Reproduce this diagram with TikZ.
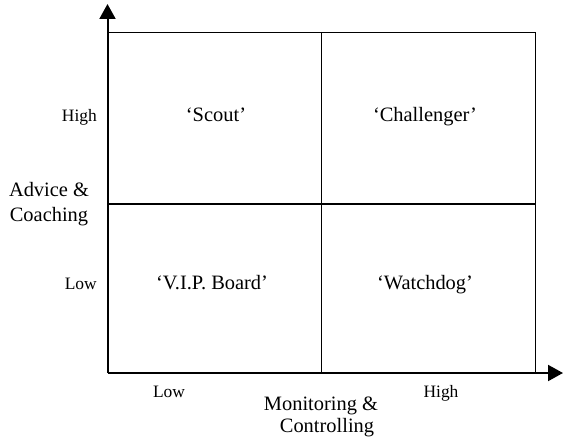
\documentclass[tikz,border=0pt]{standalone}
\usepackage{fontspec}
\setmainfont{Liberation Serif}
\usetikzlibrary{arrows.meta}
\tikzset{
  axis/.style={line width=2bp, -{Triangle[length=15bp,width=16bp]}},
  grid/.style={line width=1bp},
  midline/.style={line width=1.6bp},
  quad/.style={font=\fontsize{20.5}{24}\selectfont, anchor=base, inner sep=0pt},
  tick/.style={font=\fontsize{17.5}{21}\selectfont, inner sep=0pt},
  title/.style={font=\fontsize{20.5}{24}\selectfont, anchor=base, inner sep=0pt}
}
\begin{document}
\begin{tikzpicture}[x=1bp,y=-1bp]
\useasboundingbox (0,0) rectangle (563,439);
\coordinate (O) at (107.5,373);
\coordinate (ytip) at (107.5,4);
\coordinate (xtip) at (563,373);
\coordinate (tl) at (107.5,33);
\coordinate (tr) at (535,33);
\coordinate (br) at (535,373);
\coordinate (mt) at (321,33);
\coordinate (mb) at (321,373);
\coordinate (ml) at (107.5,204);
\coordinate (mr) at (535,204);
% grid
\draw[grid] (tl) -- (tr) -- (br);
\draw[grid] (mt) -- (mb);
\draw[midline] (ml) -- (mr);
% axes
\draw[axis] (O) -- (ytip);
\draw[axis] (O) -- (xtip);
% quadrant labels
\node[quad] (scout) at (216,122) {‘Scout’};
\node[quad] (chal) at (425,122) {‘Challenger’};
\node[quad] (vip) at (212,289) {‘V.I.P. Board’};
\node[quad] (watch) at (425,289) {‘Watchdog’};
% y tick labels
\node[tick, anchor=base east] (yhigh) at (97,122) {High};
\node[tick, anchor=base east] (ylow) at (97,289) {Low};
% x tick labels
\node[tick, anchor=base] (xlow) at (169,397) {Low};
\node[tick, anchor=base] (xhigh) at (441,397) {High};
% axis titles
\node[title] (ytitle1) at (49,197) {Advice \&};
\node[title] (ytitle2) at (49,222) {Coaching};
\node[title] (xtitle1) at (321,410) {Monitoring \&};
\node[title] (xtitle2) at (327,432) {Controlling};
\end{tikzpicture}
\end{document}
